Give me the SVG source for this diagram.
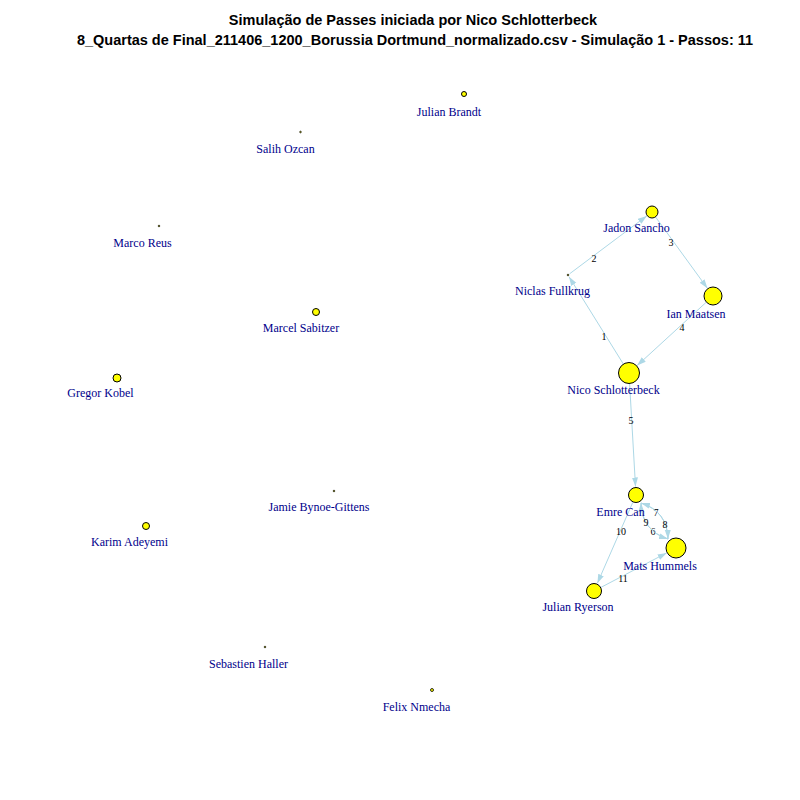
<svg xmlns="http://www.w3.org/2000/svg" width="800" height="800" viewBox="0 0 800 800">
<style>
.node{fill:#FFFF00;stroke:#000;stroke-width:1}
.dot{fill:#FFFF00;stroke:#000;stroke-width:0.8}
.lbl{font-family:"Liberation Serif",serif;font-size:12px;fill:#00008B;text-anchor:middle}
.edge{fill:none;stroke:#ADD8E6;stroke-width:1;marker-end:url(#arr)}
.el{font-family:"Liberation Serif",serif;font-size:10px;fill:#000;text-anchor:middle}
.title{font-family:"Liberation Sans",Arial,sans-serif;font-size:14.5px;font-weight:bold;fill:#000;text-anchor:middle}
</style>
<defs>
<marker id="arr" markerUnits="userSpaceOnUse" markerWidth="10" markerHeight="7" refX="9" refY="3" orient="auto">
<path d="M0,0 L9,3 L0,6 z" fill="#ADD8E6"/>
</marker>
</defs>
<rect width="800" height="800" fill="#fff"/>
<text class="title" x="413" y="25">Simulação de Passes iniciada por Nico Schlotterbeck</text>
<text class="title" x="415" y="45">8_Quartas de Final_211406_1200_Borussia Dortmund_normalizado.csv - Simulação 1 - Passos: 11</text>
<g id="connectors">
<path class="edge" d="M623.4,364.1 L569,276.7"/>
<text class="el" x="604" y="339.5">1</text>
<path class="edge" d="M569.6,273.8 L646.8,215.9"/>
<text class="el" x="594" y="261.5">2</text>
<path class="edge" d="M655.5,216.9 L707.4,288.3"/>
<text class="el" x="671" y="245.5">3</text>
<path class="edge" d="M706.4,302.1 L637.1,365.6"/>
<text class="el" x="682" y="330.5">4</text>
<path class="edge" d="M629.6,383.5 L635.5,486.5"/>
<text class="el" x="631" y="423.5">5</text>
<path class="edge" d="M641,503 Q641.7,530.6 668,539"/>
<text class="el" x="653" y="534.5">6</text>
<path class="edge" d="M668,539 Q667.3,511.4 641,503"/>
<text class="el" x="656" y="515.5">7</text>
<path class="edge" d="M641,503 Q667.3,511.4 668,539"/>
<text class="el" x="665" y="527.5">8</text>
<path class="edge" d="M668,539 Q641.7,530.6 641,503"/>
<text class="el" x="646" y="525.5">9</text>
<path class="edge" d="M632.8,502.3 L597.4,583.2"/>
<text class="el" x="621" y="534.5">10</text>
<path class="edge" d="M601.1,587.3 L666.7,552.9"/>
<text class="el" x="623" y="581.5">11</text>
</g>
<g id="julian-brandt"><circle class="node" cx="464" cy="94" r="2.5"/><text class="lbl" x="449" y="116">Julian Brandt</text></g>
<g id="salih-ozcan"><circle class="dot" cx="300.5" cy="132" r="0.8"/><text class="lbl" x="285.5" y="153">Salih Ozcan</text></g>
<g id="marco-reus"><circle class="dot" cx="159" cy="226" r="0.8"/><text class="lbl" x="142.5" y="247">Marco Reus</text></g>
<g id="marcel-sabitzer"><circle class="node" cx="316" cy="312" r="3.5"/><text class="lbl" x="301" y="332">Marcel Sabitzer</text></g>
<g id="gregor-kobel"><circle class="node" cx="117" cy="378" r="4"/><text class="lbl" x="100.5" y="397">Gregor Kobel</text></g>
<g id="jamie-bynoe-gittens"><circle class="dot" cx="334" cy="491" r="0.8"/><text class="lbl" x="319" y="511">Jamie Bynoe-Gittens</text></g>
<g id="karim-adeyemi"><circle class="node" cx="146" cy="526" r="3.5"/><text class="lbl" x="129.5" y="546">Karim Adeyemi</text></g>
<g id="sebastien-haller"><circle class="dot" cx="265" cy="647" r="0.8"/><text class="lbl" x="248.5" y="668">Sebastien Haller</text></g>
<g id="felix-nmecha"><circle class="dot" cx="432" cy="690" r="1.5"/><text class="lbl" x="416.5" y="711">Felix Nmecha</text></g>
<g id="jadon-sancho"><circle class="node" cx="652" cy="212" r="6"/><text class="lbl" x="636.5" y="232">Jadon Sancho</text></g>
<g id="niclas-fullkrug"><circle class="dot" cx="568" cy="275" r="0.8"/><text class="lbl" x="552.5" y="295">Niclas Fullkrug</text></g>
<g id="ian-maatsen"><circle class="node" cx="713" cy="296" r="9"/><text class="lbl" x="696" y="318">Ian Maatsen</text></g>
<g id="nico-schlotterbeck"><circle class="node" cx="629" cy="373" r="10.5"/><text class="lbl" x="613.5" y="394">Nico Schlotterbeck</text></g>
<g id="emre-can"><circle class="node" cx="636" cy="495" r="7.5"/><text class="lbl" x="620.5" y="516">Emre Can</text></g>
<g id="mats-hummels"><circle class="node" cx="676" cy="548" r="10"/><text class="lbl" x="660" y="570">Mats Hummels</text></g>
<g id="julian-ryerson"><circle class="node" cx="594" cy="591" r="7.5"/><text class="lbl" x="578" y="611">Julian Ryerson</text></g>
</svg>
